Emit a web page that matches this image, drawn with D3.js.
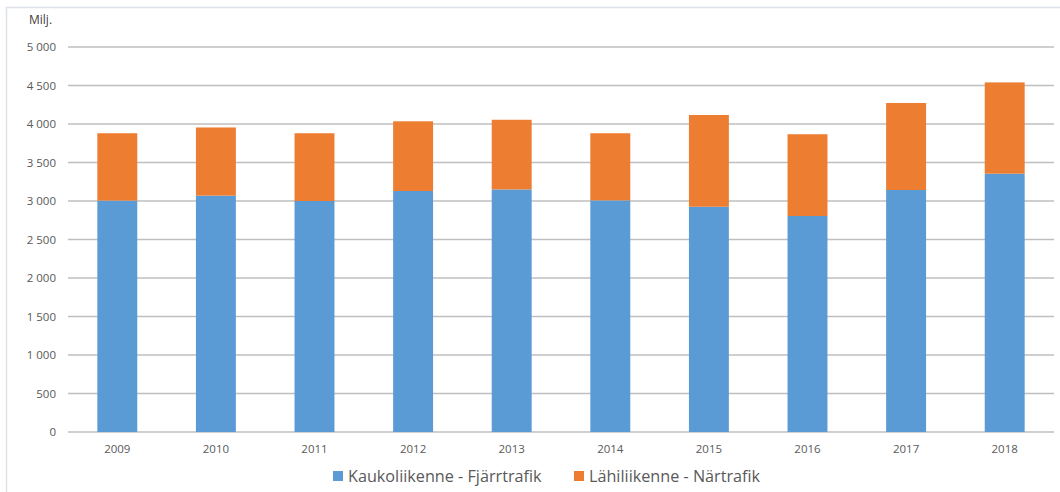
<!DOCTYPE html>
<html><head><meta charset="utf-8">
<script src="https://cdn.jsdelivr.net/npm/d3@7"></script>
<style>body{margin:0;background:#fff;} svg{display:block;font-family:"Open Sans","Liberation Sans",sans-serif;}</style>
</head><body><svg id="c" width="1060" height="492"></svg>
<script>
const years = ["2009","2010","2011","2012","2013","2014","2015","2016","2017","2018"];
const kauko = [3005,3070,3000,3130,3150,3008,2925,2805,3143,3355];
const lahi = [875,885,880,905,905,872,1192,1062,1130,1185];
const seriesNames = ["Kaukoliikenne - Fjärrtrafik","Lähiliikenne - Närtrafik"];
const colors = ["#5B9BD5","#ED7D31"];
const yTicks = [0,500,1000,1500,2000,2500,3000,3500,4000,4500,5000];

const svg = d3.select("#c");
svg.append("rect").attr("x",6.5).attr("y",7.5).attr("width",1060).attr("height",490)
  .attr("fill","none").attr("stroke","#dde2ea").attr("stroke-width",1.5);

const x0=68,x1=1054,yTop=47,yBot=432;
const x = d3.scaleBand().domain(years).range([x0,x1]).paddingInner(0.595).paddingOuter(0.2975);
const y = d3.scaleLinear().domain([0,5000]).range([yBot,yTop]);
const fmt = v => v>=1000 ? d3.format(",")(v).replace(",", " ") : String(v);

const g = svg.append("g");
g.selectAll("line.grid").data(yTicks).join("line")
  .attr("x1",x0).attr("x2",x1).attr("y1",d=>y(d)).attr("y2",d=>y(d))
  .attr("stroke","#bfbfbf").attr("stroke-width",1.5);
g.selectAll("text.yt").data(yTicks).join("text")
  .attr("x",56).attr("y",d=>y(d)).attr("dy","0.35em").attr("text-anchor","end")
  .attr("font-size",11.5).attr("fill","#595959").text(fmt);
svg.append("text").attr("x",29).attr("y",24).attr("font-size",12).attr("fill","#404040").text("Milj.");

const data = years.map((yr,i)=>({year:yr,k:kauko[i],l:lahi[i]}));
const stack = d3.stack().keys(["k","l"])(data);
stack.forEach((s,si)=>{
  g.selectAll("rect.s"+si).data(s).join("rect")
   .attr("x",d=>x(d.data.year)).attr("width",x.bandwidth())
   .attr("y",d=>y(d[1])).attr("height",d=>y(d[0])-y(d[1]))
   .attr("fill",colors[si]);
});
g.selectAll("text.xt").data(years).join("text")
  .attr("x",d=>x(d)+x.bandwidth()/2).attr("y",453).attr("text-anchor","middle")
  .attr("font-size",11.5).attr("fill","#595959").text(d=>d);

const legX=[333,574];
seriesNames.forEach((n,i)=>{
  svg.append("rect").attr("x",legX[i]).attr("y",471).attr("width",10).attr("height",10).attr("fill",colors[i]);
  svg.append("text").attr("x",legX[i]+15).attr("y",482).attr("font-size",16.2).attr("fill","#595959").text(n);
});
</script></body></html>
